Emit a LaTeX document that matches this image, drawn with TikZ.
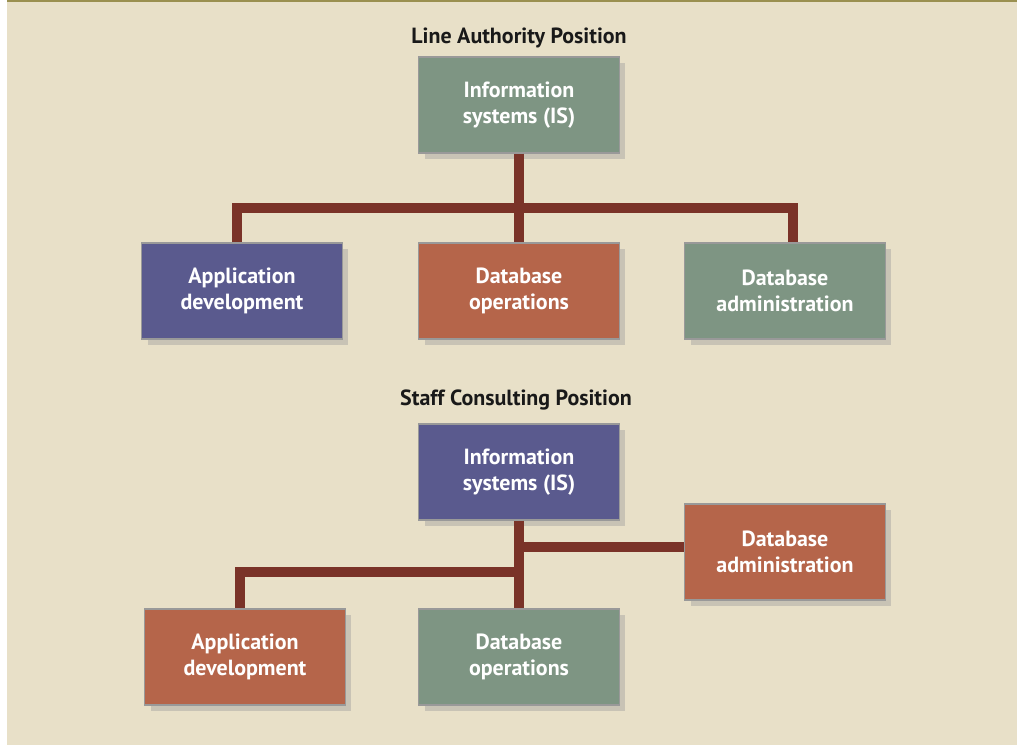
\documentclass[tikz,border=0pt]{standalone}
\usepackage{fontspec}
\setmainfont{PT Sans}
\usepackage{xcolor}
\usetikzlibrary{shadows}
\definecolor{paper}{HTML}{E8E0C8}
\definecolor{olive}{HTML}{9A9050}
\definecolor{boxgreen}{HTML}{7E9583}
\definecolor{boxblue}{HTML}{5A5A8E}
\definecolor{boxred}{HTML}{B5654A}
\definecolor{linkred}{HTML}{7A3328}
\tikzset{
  unit/.style={draw=black!40,line width=0.6pt,minimum width=4.02cm,minimum height=1.92cm,
    align=center,text=white,font=\bfseries\fontsize{12.5}{15}\selectfont,
    drop shadow={shadow xshift=0.12cm,shadow yshift=-0.12cm,fill=black!40,opacity=0.4}},
  green/.style={unit,fill=boxgreen},
  blue/.style={unit,fill=boxblue},
  red/.style={unit,fill=boxred},
  link/.style={linkred,line width=0.2cm},
  heading/.style={font=\bfseries\fontsize{12.5}{15}\selectfont,text=black!90}
}
\begin{document}
\begin{tikzpicture}[x=0.02cm,y=-0.02cm]
\useasboundingbox(0,0)rectangle(1017,746);
\fill[paper](7,0)rectangle(1017,745);
\fill[olive](7,0)rectangle(1017,2);
% line authority
\node[heading](lineTitle)at(519,38){Line Authority Position};
\node[green](lineIS)at(519,105){Information\\systems (IS)};
\node[blue](lineApp)at(242,291){Application\\development};
\node[red](lineOps)at(519,291){Database\\operations};
\node[green](lineAdm)at(785,291){Database\\administration};
\coordinate(lineBar)at(519,208);
\draw[link](lineIS.south)--(lineOps.north);
\draw[link](lineApp.north-|237,0)|-(lineBar)-|(lineAdm.north-|793,0);
% staff consulting
\node[heading](staffTitle)at(516,400){Staff Consulting Position};
\node[blue](staffIS)at(519,472){Information\\systems (IS)};
\node[red](staffAdm)at(785,552){Database\\administration};
\node[red](staffApp)at(245,657){Application\\development};
\node[green](staffOps)at(519,657){Database\\operations};
\coordinate(staffBar)at(519,572);
\coordinate(staffJoin)at(519,547);
\draw[link](staffIS.south)--(staffOps.north);
\draw[link](staffJoin)--(staffAdm.west|-staffJoin);
\draw[link](staffBar)-|(staffApp.north-|240,0);
\end{tikzpicture}
\end{document}
